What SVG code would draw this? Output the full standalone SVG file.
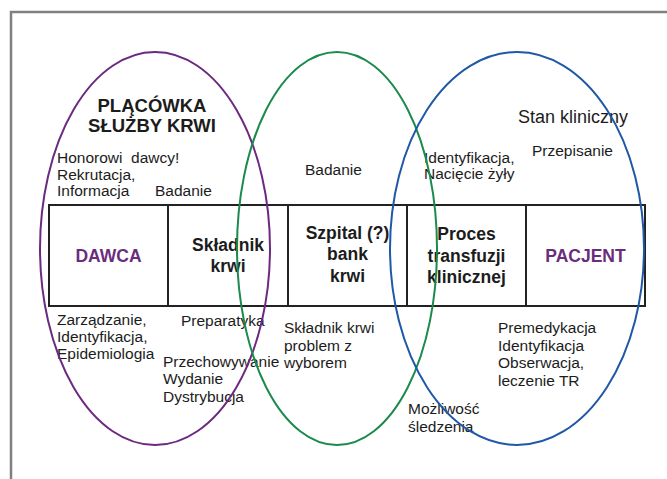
<svg xmlns="http://www.w3.org/2000/svg" width="667" height="479" viewBox="0 0 667 479">
  <style>
    .frame { fill: none; stroke: #808080; stroke-width: 2.5; }
    .cell { fill: #ffffff; stroke: #222222; stroke-width: 2; }
    .ring { fill: none; stroke-width: 2; }
    .t { font-family: "Liberation Sans", Arial, sans-serif; font-size: 15.5px; fill: #1c1c1c; }
    .big { font-size: 18px; }
    .b { font-family: "Liberation Sans", Arial, sans-serif; font-weight: bold; font-size: 17.5px; fill: #1c1c1c; text-anchor: middle; }
    .title { font-size: 18.5px; }
    .role { fill: #6a2d7c; }
  </style>

  <rect width="667" height="479" fill="#ffffff"/>
  <path class="frame" d="M11 481 V12 H669"/>

  <!-- chain of stages -->
  <g id="dawca">
    <rect class="cell" x="49" y="205" width="119" height="101"/>
    <text class="b role" x="108.5" y="262">DAWCA</text>
  </g>
  <g id="skladnik">
    <rect class="cell" x="168" y="205" width="120" height="101"/>
    <text class="b" x="228" y="251">Składnik</text>
    <text class="b" x="228" y="272">krwi</text>
  </g>
  <g id="szpital">
    <rect class="cell" x="288" y="205" width="119" height="101"/>
    <text class="b" x="347.5" y="239">Szpital (?)</text>
    <text class="b" x="347.5" y="260">bank</text>
    <text class="b" x="347.5" y="282">krwi</text>
  </g>
  <g id="proces">
    <rect class="cell" x="407" y="205" width="119" height="101"/>
    <text class="b" x="466.5" y="240">Proces</text>
    <text class="b" x="466.5" y="262">transfuzji</text>
    <text class="b" x="466.5" y="283">klinicznej</text>
  </g>
  <g id="pacjent">
    <rect class="cell" x="526" y="205" width="119" height="101"/>
    <text class="b role" x="585.5" y="262">PACJENT</text>
  </g>

  <!-- labels around the chain -->
  <g id="placowka">
    <text class="b title" x="152" y="112">PLĄCÓWKA</text>
    <text class="b title" x="152" y="131.5">SŁUŻBY KRWI</text>
  </g>
  <g id="labels">
    <text class="t" x="57" y="163" xml:space="preserve">Honorowi  dawcy!</text>
    <text class="t" x="57" y="180">Rekrutacja,</text>
    <text class="t" x="57" y="196">Informacja</text>
    <text class="t" x="155" y="196">Badanie</text>
    <text class="t" x="305" y="175">Badanie</text>
    <text class="t" x="424" y="163">Identyfikacja,</text>
    <text class="t" x="424" y="179">Nacięcie żyły</text>
    <text class="t big" x="518" y="123">Stan kliniczny</text>
    <text class="t" x="532" y="156">Przepisanie</text>

    <text class="t" x="57" y="325">Zarządzanie,</text>
    <text class="t" x="57" y="342">Identyfikacja,</text>
    <text class="t" x="57" y="359">Epidemiologia</text>
    <text class="t" x="181" y="326">Preparatyka</text>
    <text class="t" x="163" y="367">Przechowywanie</text>
    <text class="t" x="163" y="384">Wydanie</text>
    <text class="t" x="163" y="402">Dystrybucja</text>
    <text class="t" x="284" y="333">Składnik krwi</text>
    <text class="t" x="284" y="351">problem z</text>
    <text class="t" x="284" y="368">wyborem</text>
    <text class="t" x="498" y="333">Premedykacja</text>
    <text class="t" x="498" y="351">Identyfikacja</text>
    <text class="t" x="498" y="368">Obserwacja,</text>
    <text class="t" x="498" y="386">leczenie TR</text>
    <text class="t" x="408" y="414">Możliwość</text>
    <text class="t" x="408" y="432">śledzenia</text>
  </g>

  <!-- overlapping areas of responsibility -->
  <g id="areas">
    <ellipse class="ring" cx="155" cy="248.5" rx="115" ry="196.5" stroke="#6b2a7f"/>
    <ellipse class="ring" cx="337" cy="248.5" rx="100" ry="196.5" stroke="#1b8a4c"/>
    <ellipse class="ring" cx="517" cy="248.5" rx="127" ry="196.5" stroke="#1f58a6"/>
  </g>
</svg>
